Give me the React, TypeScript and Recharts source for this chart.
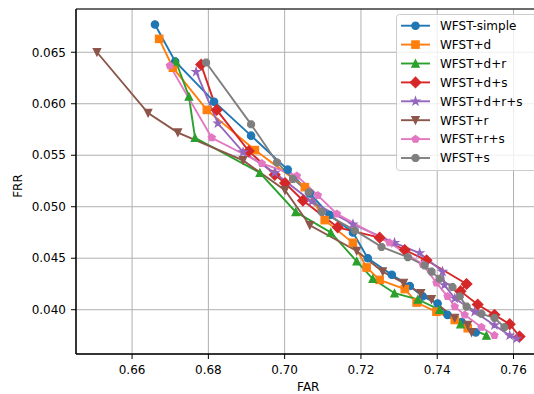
import React from "react";
import { CartesianGrid, Legend, Line, LineChart, ReferenceArea, XAxis, YAxis } from "recharts";

const FAR_TICKS = [0.66, 0.68, 0.7, 0.72, 0.74, 0.76];
const FRR_TICKS = [0.04, 0.045, 0.05, 0.055, 0.06, 0.065];
const FAR_DOMAIN = [0.6453, 0.7671];
const FRR_DOMAIN = [0.0357, 0.0692];

const simpleFar = [0.666, 0.6713, 0.6815, 0.6912, 0.7008, 0.7066, 0.7118, 0.7179, 0.7218, 0.7281, 0.7328, 0.7362, 0.7401, 0.7427, 0.7464, 0.7501];
const simpleFrr = [0.0677, 0.0641, 0.0602, 0.0569, 0.0536, 0.0513, 0.0492, 0.0475, 0.045, 0.0434, 0.0423, 0.0413, 0.0406, 0.0395, 0.0388, 0.0378];

const dFar = [0.6671, 0.6707, 0.6796, 0.6922, 0.7053, 0.7105, 0.7179, 0.7215, 0.7249, 0.7315, 0.7346, 0.7398, 0.7446, 0.748];
const dFrr = [0.0663, 0.0635, 0.0594, 0.0555, 0.0519, 0.0487, 0.0465, 0.0441, 0.0429, 0.042, 0.0407, 0.0398, 0.039, 0.0382];

const drFar = [0.6715, 0.6749, 0.6765, 0.6935, 0.7029, 0.7121, 0.7189, 0.7231, 0.7288, 0.7349, 0.7406, 0.7461, 0.7529];
const drFrr = [0.0641, 0.0607, 0.0567, 0.0533, 0.0495, 0.0475, 0.0447, 0.043, 0.0416, 0.041, 0.04, 0.0386, 0.0375];

const dsFar = [0.6781, 0.6822, 0.6906, 0.6974, 0.7001, 0.7048, 0.7139, 0.7249, 0.7315, 0.7372, 0.7477, 0.7461, 0.7506, 0.755, 0.759, 0.7616];
const dsFrr = [0.0638, 0.0594, 0.0554, 0.0531, 0.0523, 0.0506, 0.048, 0.047, 0.0458, 0.0448, 0.0425, 0.0418, 0.0405, 0.0395, 0.0386, 0.0374];

const drsFar = [0.6768, 0.6825, 0.6891, 0.6974, 0.7071, 0.7179, 0.7288, 0.7354, 0.7414, 0.7419, 0.7446, 0.7498, 0.755, 0.759, 0.7608];
const drsFrr = [0.0631, 0.0581, 0.0553, 0.0533, 0.0505, 0.0483, 0.0465, 0.0455, 0.0437, 0.0424, 0.0411, 0.0398, 0.0385, 0.0375, 0.0372];

const rFar = [0.6508, 0.6642, 0.672, 0.6891, 0.7001, 0.7066, 0.7189, 0.7257, 0.7312, 0.7357, 0.7385, 0.7446, 0.748, 0.749];
const rFrr = [0.065, 0.0591, 0.0572, 0.0545, 0.0516, 0.0482, 0.0457, 0.0437, 0.0426, 0.0416, 0.041, 0.0392, 0.0385, 0.0378];

const rsFar = [0.6699, 0.6809, 0.694, 0.7032, 0.7087, 0.7137, 0.7275, 0.7362, 0.7398, 0.7427, 0.7446, 0.7472, 0.7516, 0.755];
const rsFrr = [0.0637, 0.0567, 0.0542, 0.053, 0.0511, 0.0493, 0.0465, 0.0444, 0.0426, 0.0413, 0.0403, 0.0395, 0.0383, 0.0375];

const sFar = [0.6794, 0.6912, 0.698, 0.7022, 0.7063, 0.7097, 0.7184, 0.7254, 0.7323, 0.7367, 0.7385, 0.7406, 0.744, 0.7459, 0.7477, 0.7516, 0.755, 0.7576];
const sFrr = [0.064, 0.058, 0.0543, 0.0527, 0.0514, 0.0495, 0.0477, 0.0461, 0.0451, 0.0443, 0.0437, 0.043, 0.0422, 0.0413, 0.0403, 0.0396, 0.0392, 0.0383];

type Shape = "circle" | "square" | "up" | "diamond" | "star" | "down" | "pentagon" | "octagon";

const toPoints = (far: number[], frr: number[]) => far.map((f, i) => ({ far: f, frr: frr[i] }));

const SERIES: { name: string; color: string; shape: Shape; points: { far: number; frr: number }[] }[] = [
  { name: "WFST-simple", color: "#1f77b4", shape: "circle", points: toPoints(simpleFar, simpleFrr) },
  { name: "WFST+d", color: "#ff7f0e", shape: "square", points: toPoints(dFar, dFrr) },
  { name: "WFST+d+r", color: "#2ca02c", shape: "up", points: toPoints(drFar, drFrr) },
  { name: "WFST+d+s", color: "#d62728", shape: "diamond", points: toPoints(dsFar, dsFrr) },
  { name: "WFST+d+r+s", color: "#9467bd", shape: "star", points: toPoints(drsFar, drsFrr) },
  { name: "WFST+r", color: "#8c564b", shape: "down", points: toPoints(rFar, rFrr) },
  { name: "WFST+r+s", color: "#e377c2", shape: "pentagon", points: toPoints(rsFar, rsFrr) },
  { name: "WFST+s", color: "#7f7f7f", shape: "octagon", points: toPoints(sFar, sFrr) },
];

const FONT = "DejaVu Sans";
const FS = 12;
const MS = 7.4; // marker size in px

function polygon(cx: number, cy: number, n: number, r: number, start: number) {
  const pts: string[] = [];
  for (let i = 0; i < n; i++) {
    const a = start + (i * 2 * Math.PI) / n;
    pts.push(`${cx + r * Math.cos(a)},${cy - r * Math.sin(a)}`);
  }
  return pts.join(" ");
}

function Marker({ shape, cx, cy, color }: { shape: Shape; cx: number; cy: number; color: string }) {
  const r = MS / 2;
  const common = { fill: color, stroke: color, strokeWidth: 1.2 };
  if (cx == null || cy == null) return null;
  switch (shape) {
    case "circle":
      return <circle cx={cx} cy={cy} r={r} {...common} />;
    case "square":
      return <rect x={cx - r} y={cy - r} width={MS} height={MS} {...common} />;
    case "up":
      return <polygon points={`${cx},${cy - r} ${cx - r},${cy + r} ${cx + r},${cy + r}`} {...common} />;
    case "down":
      return <polygon points={`${cx},${cy + r} ${cx - r},${cy - r} ${cx + r},${cy - r}`} {...common} />;
    case "diamond":
      return <polygon points={polygon(cx, cy, 4, MS * 0.7071, Math.PI / 2)} {...common} />;
    case "pentagon":
      return <polygon points={polygon(cx, cy, 5, r, Math.PI / 2)} {...common} />;
    case "octagon":
      return <polygon points={polygon(cx, cy, 8, r, Math.PI / 8)} {...common} />;
    case "star": {
      const pts: string[] = [];
      for (let i = 0; i < 10; i++) {
        const a = Math.PI / 2 + (i * Math.PI) / 5;
        const rr = i % 2 === 0 ? r * 1.1 : r * 1.1 * 0.382;
        pts.push(`${cx + rr * Math.cos(a)},${cy - rr * Math.sin(a)}`);
      }
      return <polygon points={pts.join(" ")} {...common} />;
    }
  }
  return null;
}

const LegendBox = () => (
  <svg width={146} height={157} style={{ display: "block" }}>
    <rect x={0.5} y={0.5} width={150} height={156} rx={3} fill="rgba(255,255,255,0.8)" stroke="#cccccc" />
    {SERIES.map((s, i) => {
      const y = 11.7 + i * 18.9;
      return (
        <g key={s.name}>
          <line x1={5} x2={34} y1={y} y2={y} stroke={s.color} strokeWidth={1.9} />
          <Marker shape={s.shape} cx={19.5} cy={y} color={s.color} />
          <text x={44} y={y} dy="0.36em" fontSize={FS} fontFamily={FONT} fill="#000">
            {s.name}
          </text>
        </g>
      );
    })}
  </svg>
);

const XTitle = ({ viewBox }: any) => (
  <text x={viewBox.x + viewBox.width / 2} y={387} dy="0.36em" textAnchor="middle" fontSize={FS} fontFamily={FONT} fill="#000">
    FAR
  </text>
);

const YTitle = () => (
  <text x={18} y={186} dy="0.36em" textAnchor="middle" fontSize={FS} fontFamily={FONT} fill="#000" transform="rotate(-90 18 186)">
    FRR
  </text>
);

export default function App() {
  const tickStyle = { fill: "#000", fontSize: FS, fontFamily: FONT };
  return (
    <div style={{ position: "absolute", left: 0, top: 0, width: 534, height: 394, overflow: "hidden", background: "#fff" }}>
      <LineChart width={541} height={394} margin={{ top: 9, right: 0.4, left: 0, bottom: 0 }}>
        <CartesianGrid stroke="#b0b0b0" strokeWidth={1} />
        <XAxis
          type="number"
          dataKey="far"
          domain={FAR_DOMAIN}
          ticks={FAR_TICKS}
          interval={0}
          allowDataOverflow
          tickFormatter={(v: number) => v.toFixed(2)}
          tickSize={5}
          tickMargin={6}
          tick={tickStyle}
          stroke="#000"
          height={40}
          label={<XTitle />}
        />
        <YAxis
          type="number"
          dataKey="frr"
          domain={FRR_DOMAIN}
          ticks={FRR_TICKS}
          interval={0}
          allowDataOverflow
          tickFormatter={(v: number) => v.toFixed(3)}
          tickSize={5}
          tickMargin={5}
          tick={tickStyle}
          stroke="#000"
          width={76}
          label={<YTitle />}
        />
        <ReferenceArea x1={FAR_DOMAIN[0]} x2={FAR_DOMAIN[1]} y1={FRR_DOMAIN[0]} y2={FRR_DOMAIN[1]} fill="none" stroke="#000" strokeWidth={1} />
        {SERIES.map((s) => (
          <Line
            key={s.name}
            data={s.points}
            dataKey="frr"
            name={s.name}
            type="linear"
            stroke={s.color}
            strokeWidth={1.9}
            dot={(p: any) => <Marker key={`${s.name}-${p.index}`} shape={s.shape} cx={p.cx} cy={p.cy} color={s.color} />}
            activeDot={false}
            isAnimationActive={false}
          />
        ))}
        <Legend
          layout="vertical"
          align="center"
          verticalAlign="middle"
          content={<LegendBox />}
          wrapperStyle={{ left: 396, top: 14, width: 146 }}
        />
      </LineChart>
    </div>
  );
}
